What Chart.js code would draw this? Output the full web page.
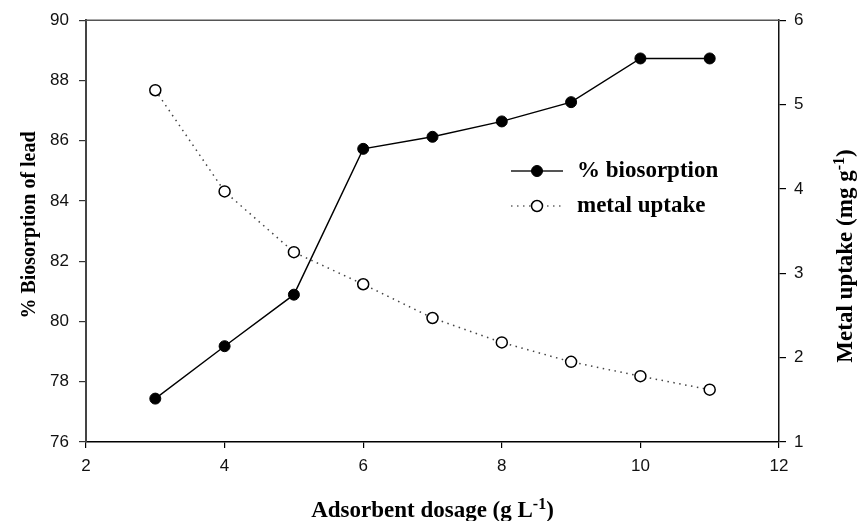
<!DOCTYPE html>
<html>
<head>
<meta charset="utf-8">
<script src="https://cdn.jsdelivr.net/npm/chart.js@4/dist/chart.umd.min.js"></script>
<style>
  html, body { margin: 0; padding: 0; background: #fff; }
  canvas { display: block; }
</style>
</head>
<body>
<canvas id="lineChart" width="857" height="521"></canvas>
<script>
// datos
var dosage = [3, 4, 5, 6, 7, 8, 9, 10, 11];
var biosorption = [77.44, 79.18, 80.89, 85.73, 86.13, 86.64, 87.28, 88.73, 88.73];
var uptake = [5.17, 3.97, 3.25, 2.87, 2.47, 2.18, 1.95, 1.78, 1.62];
var xTicks = [2, 4, 6, 8, 10, 12];
var leftTicks = [76, 78, 80, 82, 84, 86, 88, 90];
var rightTicks = [1, 2, 3, 4, 5, 6];

var tickFont = { family: 'Liberation Sans', size: 17 };
var serif = '"Liberation Serif", "Times New Roman", serif';

function setTicks(list) {
    return function (scale) {
        scale.ticks = list.map(function (v) { return { value: v }; });
    };
}

// texto con superindice (p.ej. g L^-1)
function drawRich(ctx, parts, x, y, size) {
    var total = 0;
    parts.forEach(function (p) {
        ctx.font = 'bold ' + (p.sup ? Math.round(size * 0.68) : size) + 'px ' + serif;
        p.w = ctx.measureText(p.t).width;
        total += p.w;
    });
    var cx = x - total / 2;
    ctx.textAlign = 'left';
    ctx.textBaseline = 'alphabetic';
    parts.forEach(function (p) {
        ctx.font = 'bold ' + (p.sup ? Math.round(size * 0.68) : size) + 'px ' + serif;
        ctx.fillText(p.t, cx, p.sup ? y - size * 0.36 : y);
        cx += p.w;
    });
}

var decoPlugin = {
    id: 'deco',
    afterDraw: function (chart) {
        var ctx = chart.ctx;
        var a = chart.chartArea;
        ctx.save();
        // linea superior del marco
        ctx.strokeStyle = '#555';
        ctx.lineWidth = 1.5;
        ctx.beginPath();
        ctx.moveTo(a.left, a.top);
        ctx.lineTo(a.right, a.top);
        ctx.stroke();

        ctx.fillStyle = '#000';
        // titulo eje x
        drawRich(ctx, [{ t: 'Adsorbent dosage (g L' }, { t: '-1', sup: true }, { t: ')' }],
            (a.left + a.right) / 2, 517, 23);
        // titulo eje izquierdo
        ctx.save();
        ctx.translate(35, 225);
        ctx.rotate(-Math.PI / 2);
        drawRich(ctx, [{ t: '% Biosorption of lead' }], 0, 0, 20);
        ctx.restore();
        // titulo eje derecho
        ctx.save();
        ctx.translate(852, 256);
        ctx.rotate(-Math.PI / 2);
        drawRich(ctx, [{ t: 'Metal uptake (mg g' }, { t: '-1', sup: true }, { t: ')' }], 0, 0, 23);
        ctx.restore();

        // leyenda
        chart.data.datasets.forEach(function (ds, i) {
            var y = 171 + i * 35;
            var x0 = 511;
            ctx.strokeStyle = i === 0 ? '#555' : '#666';
            ctx.lineWidth = i === 0 ? 2 : 1.5;
            ctx.setLineDash(ds.borderDash || []);
            ctx.beginPath();
            ctx.moveTo(x0, y);
            ctx.lineTo(x0 + 52, y);
            ctx.stroke();
            ctx.setLineDash([]);
            ctx.beginPath();
            ctx.arc(x0 + 26, y, ds.pointRadius, 0, Math.PI * 2);
            ctx.fillStyle = ds.pointBackgroundColor;
            ctx.fill();
            ctx.lineWidth = ds.pointBorderWidth;
            ctx.strokeStyle = ds.pointBorderColor;
            ctx.stroke();
            ctx.fillStyle = '#000';
            ctx.font = 'bold 23px ' + serif;
            ctx.textAlign = 'left';
            ctx.textBaseline = 'middle';
            ctx.fillText(ds.label, 577, y);
        });
        ctx.restore();
    }
};

var ctxLine = document.getElementById('lineChart').getContext('2d');

var lineChart = new Chart(ctxLine, {
    type: 'line',
    data: {
        datasets: [
            {
                label: '% biosorption',
                data: dosage.map(function (d, i) { return { x: d, y: biosorption[i] }; }),
                yAxisID: 'y',
                borderColor: '#000',
                borderWidth: 1.4,
                pointRadius: 5.5,
                pointBackgroundColor: '#000',
                pointBorderColor: '#000',
                pointBorderWidth: 1,
                tension: 0
            },
            {
                label: 'metal uptake',
                data: dosage.map(function (d, i) { return { x: d, y: uptake[i] }; }),
                yAxisID: 'y1',
                borderColor: '#444',
                borderWidth: 1.5,
                borderDash: [1.5, 4.5],
                pointRadius: 5.5,
                pointBackgroundColor: '#fff',
                pointBorderColor: '#000',
                pointBorderWidth: 1.5,
                tension: 0
            }
        ]
    },
    options: {
        responsive: false,
        animation: false,
        devicePixelRatio: 1,
        layout: { padding: { top: 19, left: 0, right: 0, bottom: 0 } },
        plugins: {
            legend: { display: false },
            tooltip: { enabled: false }
        },
        scales: {
            x: {
                type: 'linear',
                position: 'bottom',
                min: 2,
                max: 12,
                afterBuildTicks: setTicks(xTicks),
                afterFit: function (scale) { scale.height = 79; },
                grid: { drawOnChartArea: false, tickLength: 6, color: '#000', lineWidth: 1.2 },
                border: { color: '#000', width: 1.5 },
                ticks: { font: tickFont, color: '#111', padding: 8, maxRotation: 0 }
            },
            y: {
                position: 'left',
                min: 76,
                max: 90,
                afterBuildTicks: setTicks(leftTicks),
                afterFit: function (scale) { scale.width = 86; },
                grid: { drawOnChartArea: false, tickLength: 7, color: '#333', lineWidth: 1.2 },
                border: { color: '#444', width: 2 },
                ticks: { font: tickFont, color: '#111', padding: 10 }
            },
            y1: {
                position: 'right',
                min: 1,
                max: 6,
                afterBuildTicks: setTicks(rightTicks),
                afterFit: function (scale) { scale.width = 78; },
                grid: { drawOnChartArea: false, tickLength: 7, color: '#000', lineWidth: 1.2 },
                border: { color: '#111', width: 1.5 },
                ticks: { font: tickFont, color: '#111', padding: 8 }
            }
        }
    },
    plugins: [decoPlugin]
});
</script>
</body>
</html>
